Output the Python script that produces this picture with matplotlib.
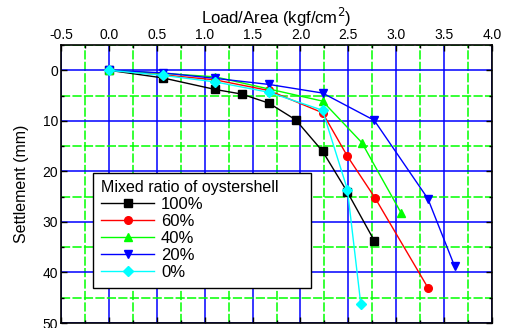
import numpy as np
import matplotlib.pyplot as plt
from matplotlib.ticker import MultipleLocator

plt.rcParams['font.family'] = ['Liberation Sans', 'DejaVu Sans']

# Дані (load/area, settlement)
x100 = [0, 0.56, 1.11, 1.385, 1.67, 1.95, 2.23, 2.49, 2.77]
y100 = [0, 1.5, 3.8, 4.7, 6.5, 9.8, 16.0, 24.1, 33.7]
x60 = [0, 0.56, 1.11, 1.67, 2.23, 2.49, 2.78, 3.33]
y60 = [0, 0.9, 1.9, 4.0, 8.4, 17.0, 25.3, 43.0]
x40 = [0, 0.56, 1.11, 1.67, 2.23, 2.64, 3.05]
y40 = [0, 0.6, 1.3, 3.7, 6.1, 14.3, 28.2]
x20 = [0, 0.56, 1.11, 1.67, 2.23, 2.77, 3.33, 3.61]
y20 = [0, 0.5, 1.6, 2.8, 4.5, 9.9, 25.4, 38.8]
x0 = [0, 0.56, 1.11, 1.67, 2.23, 2.49, 2.63]
y0 = [0, 1.0, 2.3, 4.35, 7.9, 23.6, 46.3]

labels = ['100%', '60%', '40%', '20%', '0%']

fig = plt.figure(figsize=(5.06, 3.28), dpi=100)
ax = fig.add_axes([0.1206, 0.0152, 0.8518, 0.8476])

series = [(x100, y100, 'black', 's'), (x60, y60, 'red', 'o'),
          (x40, y40, '#00ff00', '^'), (x20, y20, 'blue', 'v'),
          (x0, y0, 'cyan', 'D')]
for (xs, ys, c, m), lab in zip(series, labels):
    ax.plot(xs, ys, color=c, marker=m, markersize=5.5 if m != 'D' else 5,
            linewidth=1, label=lab, zorder=3)

ax.set_xlim(-0.5, 4.0)
ax.set_ylim(50, -5)
ax.xaxis.set_major_locator(MultipleLocator(0.5))
ax.xaxis.set_minor_locator(MultipleLocator(0.25))
ax.yaxis.set_major_locator(MultipleLocator(10))
ax.yaxis.set_minor_locator(MultipleLocator(5))

# Сітка
ax.grid(which='major', color='blue', linewidth=1.1, linestyle='-', zorder=1)
ax.grid(which='minor', color='#00ff00', linewidth=1.1, linestyle=(0, (6, 1.5)), zorder=1)
ax.set_axisbelow(True)

ax.xaxis.tick_top()
ax.xaxis.set_label_position('top')
ax.tick_params(which='both', direction='in', top=True, bottom=True, left=True,
               right=True, labelsize=10, pad=2)
ax.tick_params(which='major', length=4, width=1)
ax.tick_params(which='minor', length=2, width=1)
ax.set_xticks(np.arange(-0.5, 4.01, 0.5))
ax.set_xticklabels(['%.1f' % v for v in np.arange(-0.5, 4.01, 0.5)])
ax.set_yticks(np.arange(0, 51, 10))

ax.set_xlabel('Load/Area (kgf/cm$^2$)', fontsize=12, labelpad=3)
ax.set_ylabel('Settlement (mm)', fontsize=11.5, labelpad=10)
for s in ax.spines.values():
    s.set_linewidth(1.2)

leg = ax.legend(title='Mixed ratio of oystershell', loc='lower left',
                bbox_to_anchor=(0.056, 0.097, 0.543, 0.42), mode='expand',
                fontsize=12, title_fontsize=11.5, fancybox=False, framealpha=1,
                edgecolor='black', handlelength=3.2, borderpad=0.45,
                labelspacing=0.12, handletextpad=0.4)
leg._legend_box.align = 'left'
leg.get_frame().set_linewidth(1)

fig.savefig('out.png', dpi=100)
